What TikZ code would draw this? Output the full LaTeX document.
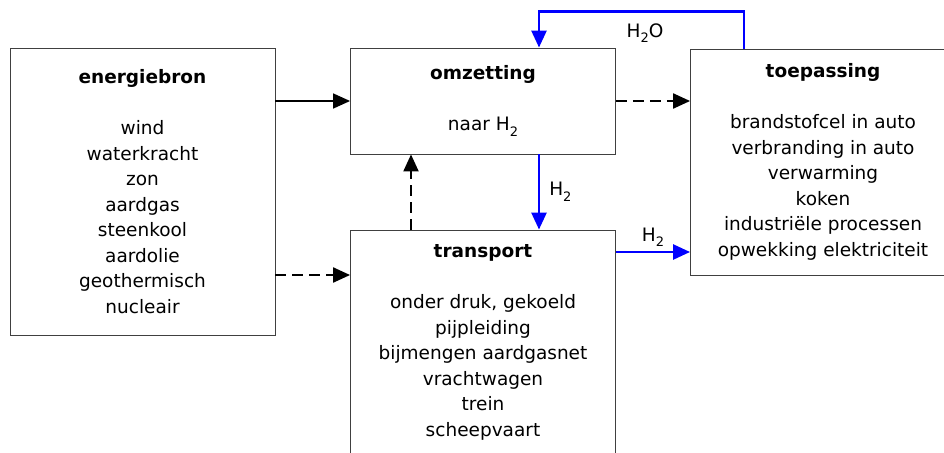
\documentclass[tikz,border=0pt]{standalone}
\usepackage{fontspec}
\setmainfont{DejaVu Sans}
\usetikzlibrary{positioning, arrows.meta, calc}
\newcommand{\Hsub}[1]{H\raisebox{-0.55ex}{\fontsize{13}{13}\selectfont #1}}

\begin{document}
\begin{tikzpicture}[
  x=1pt, y=-1pt,
  blok/.style={draw=black!75, line width=0.9pt, align=center, inner sep=0pt,
               minimum width=265pt, font=\fontsize{18.5}{25.5}\selectfont},
  pijl/.style={line width=1.6pt, -{Triangle[length=17pt, width=15pt]}},
  stippel/.style={pijl, line width=2.2pt, dash pattern=on 11pt off 6pt},
  waterstof/.style={pijl, blue, line width=2.6pt},
  lbl/.style={font=\fontsize{18.5}{20}\selectfont, inner sep=1pt, text=black},
]
  \useasboundingbox (0,0) rectangle (944,452);

  % Blokken
  \node[blok, minimum height=287pt] (bron) at (142.5,191.5)
    {\textbf{energiebron}\\[25.5pt] wind\\ waterkracht\\ zon\\ aardgas\\
     steenkool\\ aardolie\\ geothermisch\\ nucleair};
  \node[blok, minimum height=106pt] (omzet) at (483,101)
    {\textbf{omzetting}\\[25.5pt] naar \Hsub{2}};
  \node[blok, minimum height=225pt] (trans) at (483,342.5)
    {\textbf{transport}\\[25.5pt] onder druk, gekoeld\\ pijpleiding\\
     bijmengen aardgasnet\\ vrachtwagen\\ trein\\ scheepvaart};
  \node[blok, minimum height=226pt] (toep) at (823,162)
    {\textbf{toepassing}\\[25.5pt] brandstofcel in auto\\ verbranding in auto\\
     verwarming\\ koken\\ industriële processen\\ opwekking elektriciteit};

  % Hulppunten
  \coordinate (bron-tr) at ([yshift=67.5pt]trans.west);
  \coordinate (trans-op) at ([xshift=-72pt]trans.north);
  \coordinate (omzet-af) at ([xshift=56pt]omzet.south);
  \coordinate (trans-uit) at ([yshift=90.5pt]trans.east);
  \coordinate (toep-uit) at ([xshift=-79pt]toep.north);

  % Pijlen
  \draw[pijl] (bron.east |- omzet.west) -- (omzet.west);
  \draw[stippel] (bron.east |- bron-tr) -- (bron-tr);
  \draw[stippel] (omzet.east) -- (omzet.east -| toep.west);
  \draw[stippel] (trans-op) -- (trans-op |- omzet.south);
  \draw[waterstof] (omzet-af) -- (omzet-af |- trans.north)
    node[lbl, midway, right, xshift=8pt] (h2-a) {\Hsub{2}};
  \draw[waterstof] (trans-uit) -- (trans-uit -| toep.west)
    node[lbl, midway, above, yshift=3pt] (h2-b) {\Hsub{2}};
  \draw[waterstof] (toep-uit) -- ++(0,-37) -| ([xshift=56pt]omzet.north);
  \node[lbl] (h2o) at (645,33) {\Hsub{2}O};
\end{tikzpicture}
\end{document}
